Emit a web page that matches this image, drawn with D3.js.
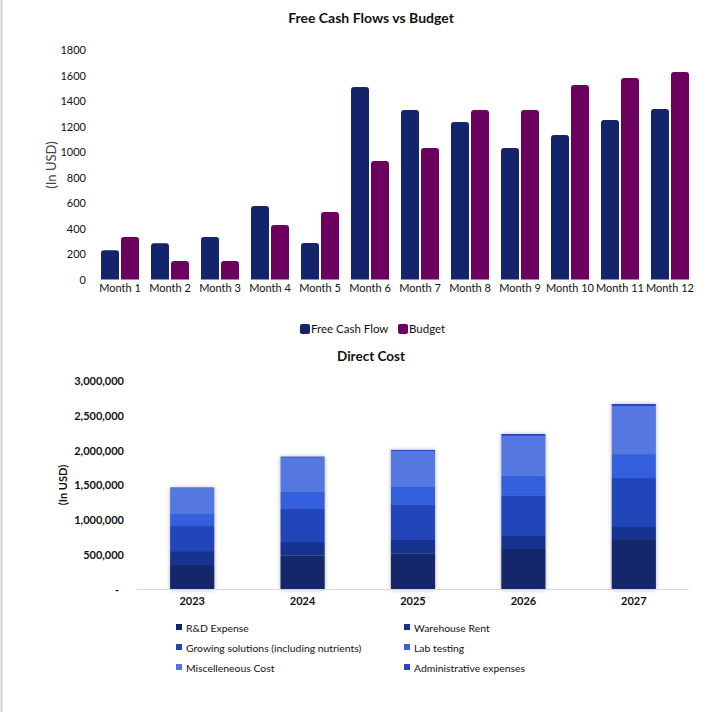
<!DOCTYPE html>
<html><head><meta charset="utf-8">
<script src="https://cdn.jsdelivr.net/npm/d3@7"></script>
<style>
html,body{margin:0;padding:0;background:#fff;}
svg{display:block;font-family:Lato, "Open Sans", sans-serif;}
</style></head>
<body><svg id="c" width="719" height="712"></svg>
<script>
// ---- Data: Free Cash Flows vs Budget ----
const months = ["Month 1","Month 2","Month 3","Month 4","Month 5","Month 6","Month 7","Month 8","Month 9","Month 10","Month 11","Month 12"];
const freeCashFlow = [230, 285, 333, 576, 286, 1510, 1329, 1235, 1031, 1133, 1251, 1337];
const budget = [333, 145, 145, 427, 529, 929, 1031, 1329, 1329, 1525, 1580, 1627];
const topTicks = [0,200,400,600,800,1000,1200,1400,1600,1800];

// ---- Data: Direct Cost ----
const years = ["2023","2024","2025","2026","2027"];
const rdExpense = [352000, 486000, 521000, 583000, 712000];
const warehouseRent = [201000, 197000, 191000, 187000, 187000];
const growingSolutions = [360000, 475000, 504000, 576000, 705000];
const labTesting = [173000, 245000, 259000, 288000, 345000];
const miscCost = [367000, 494000, 518000, 576000, 691000];
const adminExpenses = [15000, 15000, 15000, 27000, 29000];
const bottomTicks = [0,500000,1000000,1500000,2000000,2500000,3000000];

const svg = d3.select("#c");
svg.append("rect").attr("x",0).attr("y",0).attr("width",719).attr("height",712).attr("fill","#fff");
svg.append("line").attr("x1",1.5).attr("x2",1.5).attr("y1",0).attr("y2",712).attr("stroke","#d0d0d0").attr("stroke-width",2);

// ===== Top chart =====
const x0 = d3.scaleBand().domain(months).range([95,695]).padding(0);
const yT = d3.scaleLinear().domain([0,1800]).range([279.5,50]);
const barW = 18, gap = 2;
svg.append("text").attr("x",371).attr("y",23).attr("text-anchor","middle")
  .attr("font-weight","bold").attr("font-size",14).attr("fill","#111").text("Free Cash Flows vs Budget");

const gyT = svg.append("g").attr("transform","translate(86,0)")
  .call(d3.axisLeft(yT).tickValues(topTicks).tickSize(0).tickPadding(0).tickFormat(d3.format("d")));
gyT.select(".domain").remove();
gyT.selectAll("text").attr("font-size",11).attr("fill","#111").attr("font-family","Lato, sans-serif");

svg.append("text").attr("transform","translate(56,165) rotate(-90)").attr("text-anchor","middle")
  .attr("font-size",13).attr("fill","#444").text("(In USD)");

const gxT = svg.append("g").attr("transform","translate(0,284)")
  .call(d3.axisBottom(x0).tickSize(0).tickPadding(0));
gxT.select(".domain").remove();
gxT.selectAll("text").attr("font-size",11).attr("fill","#111").attr("font-family","Lato, sans-serif").attr("dy","0.71em");

function roundTop(x, y, w, h, r){
  r = Math.min(r, h, w/2);
  return `M${x},${y+h}V${y+r}Q${x},${y} ${x+r},${y}H${x+w-r}Q${x+w},${y} ${x+w},${y+r}V${y+h}Z`;
}
const fcfColor = "#14246a", budColor = "#6b005f";
months.forEach((m,i)=>{
  const cx = x0(m) + x0.bandwidth()/2;
  const yf = yT(freeCashFlow[i]), yb = yT(budget[i]);
  svg.append("path").attr("d", roundTop(cx-gap/2-barW, yf, barW, yT(0)-yf, 3)).attr("fill",fcfColor);
  svg.append("path").attr("d", roundTop(cx+gap/2, yb, barW, yT(0)-yb, 3)).attr("fill",budColor);
});

// legend top
const lgT = [{n:"Free Cash Flow",c:fcfColor,x:300},{n:"Budget",c:budColor,x:398}];
lgT.forEach(d=>{
  svg.append("rect").attr("x",d.x).attr("y",324).attr("width",10).attr("height",10).attr("rx",2).attr("fill",d.c);
  svg.append("text").attr("x",d.x+11).attr("y",333).attr("font-size",11.5).attr("fill","#111").text(d.n);
});

// ===== Bottom chart =====
const seriesNames = ["R&D Expense","Warehouse Rent","Growing solutions (including nutrients)","Lab testing","Miscelleneous Cost","Administrative expenses"];
const seriesVals = [rdExpense, warehouseRent, growingSolutions, labTesting, miscCost, adminExpenses];
const colors = ["#14266a","#17338f","#2045ba","#3660dd","#5478e0","#2348c0"];
const table = years.map((y,i)=>{ const o={year:y}; seriesNames.forEach((s,k)=>o[s]=seriesVals[k][i]); return o; });
const stack = d3.stack().keys(seriesNames)(table);

const xB = d3.scaleBand().domain(years).range([137,689]).paddingInner(0.6).paddingOuter(0.3);
const yB = d3.scaleLinear().domain([0,3000000]).range([589.5,381]);

svg.append("text").attr("x",371).attr("y",361).attr("text-anchor","middle")
  .attr("font-weight","bold").attr("font-size",13.5).attr("fill","#111").text("Direct Cost");

const gyB = svg.append("g").attr("transform","translate(124,0)")
  .call(d3.axisLeft(yB).tickValues(bottomTicks).tickSize(0).tickPadding(0)
    .tickFormat(d=> d===0 ? "-" : d3.format(",")(d)));
gyB.select(".domain").remove();
gyB.selectAll("text").attr("font-size",11).attr("font-weight","bold").attr("fill","#111").attr("font-family","Lato, sans-serif");
gyB.selectAll(".tick").filter(d=>d===0).select("text").attr("x",-5);

svg.append("text").attr("transform","translate(67,485) rotate(-90)").attr("text-anchor","middle")
  .attr("font-size",11).attr("font-weight","bold").attr("fill","#111").text("(In USD)");

const defs = svg.append("defs");
const f = defs.append("filter").attr("id","sh").attr("x","-20%").attr("y","-10%").attr("width","140%").attr("height","120%");
f.append("feDropShadow").attr("dx",0).attr("dy",0).attr("stdDeviation",2).attr("flood-color","#000").attr("flood-opacity",0.3);

const gBars = svg.append("g").attr("filter","url(#sh)");
stack.forEach((layer,k)=>{
  gBars.selectAll(null).data(layer).enter().append("rect")
    .attr("x", d=>xB(d.data.year)).attr("width", xB.bandwidth())
    .attr("y", d=>yB(d[1])).attr("height", d=>yB(d[0])-yB(d[1]))
    .attr("fill", colors[k]);
});

svg.append("line").attr("x1",137).attr("x2",689).attr("y1",589.5).attr("y2",589.5).attr("stroke","#d9d9d9").attr("stroke-width",1);

const gxB = svg.append("g").attr("transform","translate(0,597)")
  .call(d3.axisBottom(xB).tickSize(0).tickPadding(0));
gxB.select(".domain").remove();
gxB.selectAll("text").attr("font-size",11).attr("font-weight","bold").attr("fill","#111").attr("font-family","Lato, sans-serif").attr("dy","0.71em");

// legend bottom
seriesNames.forEach((s,k)=>{
  const col = k%2, row = Math.floor(k/2);
  const lx = col===0 ? 176 : 404, ly = 628 + row*20;
  svg.append("rect").attr("x",lx).attr("y",ly-4).attr("width",6).attr("height",6).attr("fill",colors[k]);
  svg.append("text").attr("x",lx+10).attr("y",ly).attr("dy","0.35em").attr("font-size",10.4).attr("fill","#111").text(s);
});
</script>
</body></html>
